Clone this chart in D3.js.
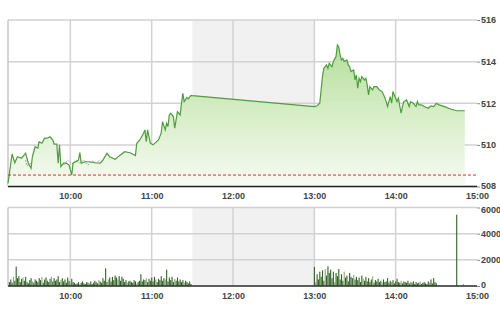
<!DOCTYPE html>
<html><head><meta charset="utf-8">
<script src="https://cdn.jsdelivr.net/npm/d3@7"></script>
<style>
html,body{margin:0;padding:0;background:#fff;}
svg{display:block;}
text{font-family:"Liberation Sans",Arial,sans-serif;font-size:9px;font-weight:bold;fill:#444;}
</style></head>
<body>
<script>
// ---- data ----
const priceTimes = ["09:14","09:17","09:19","09:21","09:24","09:27","09:29","09:31","09:32","09:34","09:36","09:37","09:39","09:41","09:43","09:45","09:47","09:48","09:50","09:51","09:52","09:53","09:55","09:57","09:59","10:01","10:02","10:06","10:07","10:08","10:11","10:14","10:18","10:22","10:23","10:24","10:27","10:29","10:33","10:36","10:40","10:44","10:48","10:49","10:51","10:54","10:55","10:56","10:57","10:59","11:01","11:05","11:07","11:08","11:10","11:11","11:12","11:13","11:14","11:16","11:17","11:18","11:19","11:21","11:22","11:23","11:24","11:26","11:27","11:29","11:30",
"13:00","13:02","13:04","13:06","13:07","13:09","13:10","13:11","13:13","13:14","13:16","13:17","13:18","13:19","13:20","13:21","13:22","13:24","13:25","13:26","13:27","13:29","13:30","13:31","13:32","13:33","13:34","13:35","13:37","13:38","13:39","13:40","13:41","13:43","13:44","13:46","13:48","13:50","13:52","13:53","13:54","13:56","13:57","13:58","13:59","14:01","14:02","14:04","14:05","14:06","14:08","14:10","14:11","14:13","14:15","14:16","14:17","14:19","14:21","14:24","14:26","14:28","14:30","14:32","14:36","14:41","14:45","14:51"];
const priceValues = [508.15,509.56,509.14,509.43,509.36,509.60,509.12,508.88,509.43,509.91,509.84,510.15,510.08,510.32,510.32,510.39,510.24,510.04,510.04,509.12,510.00,508.95,509.12,509.12,509.03,508.55,509.12,509.27,509.63,509.12,509.19,509.19,509.14,509.12,509.19,509.27,509.59,509.43,509.31,509.47,509.67,509.62,509.49,510.08,510.21,510.56,510.72,510.15,510.72,510.08,510.00,510.24,510.56,511.12,510.72,511.04,510.88,511.44,511.52,511.36,510.80,511.20,511.60,511.44,512.00,512.48,512.08,512.28,512.21,512.38,512.37,
511.84,511.88,512.00,513.28,513.68,513.84,513.68,513.92,513.76,514.00,514.24,514.80,514.72,514.32,514.08,514.16,514.00,514.08,513.84,513.76,513.52,513.60,513.12,513.36,512.72,513.20,513.04,513.28,513.12,513.20,512.88,512.40,512.80,512.64,512.80,512.80,512.64,512.56,512.28,512.08,511.84,512.32,512.00,512.56,512.40,512.08,512.24,511.52,511.84,512.08,512.16,511.84,512.08,512.00,511.84,512.08,511.92,511.92,511.84,511.76,511.87,511.84,512.00,511.92,511.84,511.71,511.64,511.64];

const ghostTimes  = ["09:27","09:28","09:31","09:52","09:55","09:58","10:01","10:04","10:07","10:10","10:13","10:16","10:19","10:22"];
const ghostValues = [509.27,508.99,509.13,null,509.03,509.27,509.08,509.23,509.13,509.27,509.03,509.23,509.13,509.27];

const referenceValue = 508.55;

const volMorningStart = "09:15";
const volMorning = [300,500,250,700,400,1480,600,750,300,550,
650,400,700,300,200,450,600,350,250,500,
400,300,600,450,700,250,500,650,400,300,
550,700,350,600,400,500,750,300,450,600,
350,500,250,650,400,200,550,300,250,150,
200,300,150,250,350,200,150,300,250,200,
350,150,250,400,300,200,450,350,250,600,
400,1350,300,500,650,350,700,450,800,650,
500,750,400,700,550,300,450,250,350,400,
300,250,450,350,200,300,400,900,350,500,
450,600,300,550,400,650,350,700,500,300,
550,450,750,400,600,500,1250,350,650,450,
700,300,550,400,650,350,500,300,450,250,
400,300,200,350,150];
const volAfternoonStart = "13:00";
const volAfternoon = [1450,300,900,500,1100,700,1200,400,1300,800,
1500,1000,1250,600,1100,300,1000,750,1300,500,
900,400,1100,650,800,350,1000,700,600,850,
500,700,450,650,300,800,550,400,700,350,
600,300,500,750,250,450,350,550,300,400,
250,500,300,350,600,250,400,300,450,200,
350,550,300,250,400,200,350,300,250,400,
200,300,250,350,150,300,200,250,350,150,
250,300,200,150,350,250,500,200,600,300,
200];
const volCloseTimes = ["14:45","14:50"];
const volCloseValues = [5450,150];

const priceTicks = [508,510,512,514,516];
const volTicks = [0,2000,4000,6000];
const timeTicks = ["10:00","11:00","12:00","13:00","14:00","15:00"];
const lunchBreak = ["11:30","13:00"];
const timeDomain = ["09:14","15:00"];

// ---- helpers ----
const toMin = s => { const [h,m] = s.split(":").map(Number); return h*60+m; };
const W = 500, H = 312;
const L = 8, R = 477;
const svg = d3.select("body").append("svg").attr("width",W).attr("height",H);

const x = d3.scaleLinear().domain(timeDomain.map(toMin)).range([L, R]);
const y = d3.scaleLinear().domain([508,516]).range([186.5, 20]);
const yv = d3.scaleLinear().domain([0,6000]).range([286, 207.5]);

const defs = svg.append("defs");
const grad = defs.append("linearGradient").attr("id","areaGrad")
  .attr("gradientUnits","userSpaceOnUse").attr("x1",0).attr("y1",y(516)).attr("x2",0).attr("y2",y(508));
grad.append("stop").attr("offset","0%").attr("stop-color","#a9d88c");
grad.append("stop").attr("offset","55%").attr("stop-color","#d6edc6");
grad.append("stop").attr("offset","100%").attr("stop-color","#f7fbf3");

function panel(ys, ticks, top, bottom) {
  const g = svg.append("g");
  g.append("rect").attr("x",x(toMin(lunchBreak[0]))).attr("y",top)
    .attr("width",x(toMin(lunchBreak[1]))-x(toMin(lunchBreak[0]))).attr("height",bottom-top)
    .attr("fill","#f1f1f1");
  g.selectAll(".hg").data(ticks).join("line")
    .attr("x1",L).attr("x2",R).attr("y1",d=>ys(d)).attr("y2",d=>ys(d))
    .attr("stroke","#d2d2d2").attr("stroke-width",1.5);
  g.selectAll(".vg").data(timeTicks.slice(0,-1)).join("line")
    .attr("x1",d=>x(toMin(d))).attr("x2",d=>x(toMin(d))).attr("y1",top).attr("y2",bottom)
    .attr("stroke","#d2d2d2").attr("stroke-width",1.5);
  g.append("line").attr("x1",L).attr("x2",L).attr("y1",top).attr("y2",bottom)
    .attr("stroke","#c8c8c8").attr("stroke-width",1.5);
  return g;
}

// ---- price panel ----
panel(y, priceTicks, y(516), y(508));
const pts = priceTimes.map((t,i)=>({t:toMin(t), v:priceValues[i]}));
svg.append("path").datum(pts)
  .attr("d", d3.area().x(d=>x(d.t)).y0(y(508)).y1(d=>y(d.v)))
  .attr("fill","url(#areaGrad)");
const gpts = ghostTimes.map((t,i)=>({t:toMin(t), v:ghostValues[i]}));
svg.append("path").datum(gpts)
  .attr("d", d3.line().defined(d=>d.v!=null).x(d=>x(d.t)).y(d=>y(d.v)))
  .attr("fill","none").attr("stroke","#a8a8a8").attr("stroke-width",1).attr("stroke-dasharray","2,1");
svg.append("path").datum(pts)
  .attr("d", d3.line().x(d=>x(d.t)).y(d=>y(d.v)))
  .attr("fill","none").attr("stroke","#4e9c3e").attr("stroke-width",1.2);
svg.append("line").attr("x1",L).attr("x2",R).attr("y1",y(referenceValue)).attr("y2",y(referenceValue))
  .attr("stroke","#e02a2a").attr("stroke-width",1).attr("stroke-dasharray","3,2");
svg.append("line").attr("x1",L).attr("x2",R).attr("y1",y(508)).attr("y2",y(508))
  .attr("stroke","#222").attr("stroke-width",1.5);

const yAxis = svg.append("g").attr("transform",`translate(${R},0)`)
  .call(d3.axisRight(y).tickValues(priceTicks).tickSize(3).tickPadding(1).tickFormat(d3.format("d")));
yAxis.select(".domain").remove();
yAxis.selectAll(".tick line").attr("stroke","#888");
yAxis.selectAll(".tick text").attr("dy",d=> d===508 ? "0.2em" : "0.32em");

const xAxis = svg.append("g").attr("transform",`translate(0,${y(508)+6.5})`)
  .call(d3.axisBottom(x).tickValues(timeTicks.map(toMin)).tickSize(0).tickPadding(0)
    .tickFormat((d,i)=>timeTicks[i]));
xAxis.select(".domain").remove();

// ---- volume panel ----
panel(yv, volTicks, yv(6000), yv(0));
const vbars = [];
volMorning.forEach((v,i)=>vbars.push({t:toMin(volMorningStart)+i, v}));
volAfternoon.forEach((v,i)=>vbars.push({t:toMin(volAfternoonStart)+i, v}));
volCloseTimes.forEach((t,i)=>vbars.push({t:toMin(t), v:volCloseValues[i]}));
svg.append("g").selectAll("rect").data(vbars).join("rect")
  .attr("x",d=>x(d.t)-0.5).attr("width",1.1)
  .attr("y",d=>yv(d.v)).attr("height",d=>yv(0)-yv(d.v))
  .attr("fill",(d,i)=> i%7===3 ? "#8aa67e" : "#2f6322");
svg.append("line").attr("x1",L).attr("x2",R).attr("y1",yv(0)).attr("y2",yv(0))
  .attr("stroke","#333").attr("stroke-width",1.5);

const yvAxis = svg.append("g").attr("transform",`translate(${R},0)`)
  .call(d3.axisRight(yv).tickValues(volTicks).tickSize(3).tickPadding(1).tickFormat(d3.format("d")));
yvAxis.select(".domain").remove();
yvAxis.selectAll(".tick line").attr("stroke","#888");
yvAxis.selectAll(".tick text").attr("dy",d=> d===6000 ? "0.55em" : (d===0 ? "0.2em" : "0.32em"));

const xvAxis = svg.append("g").attr("transform",`translate(0,${yv(0)+6.5})`)
  .call(d3.axisBottom(x).tickValues(timeTicks.map(toMin)).tickSize(0).tickPadding(0)
    .tickFormat((d,i)=>timeTicks[i]));
xvAxis.select(".domain").remove();

svg.selectAll(".tick text").style("font-family","'Liberation Sans',Arial,sans-serif")
  .style("font-size","9px").style("font-weight","bold").style("fill","#444");
</script>
</body></html>
